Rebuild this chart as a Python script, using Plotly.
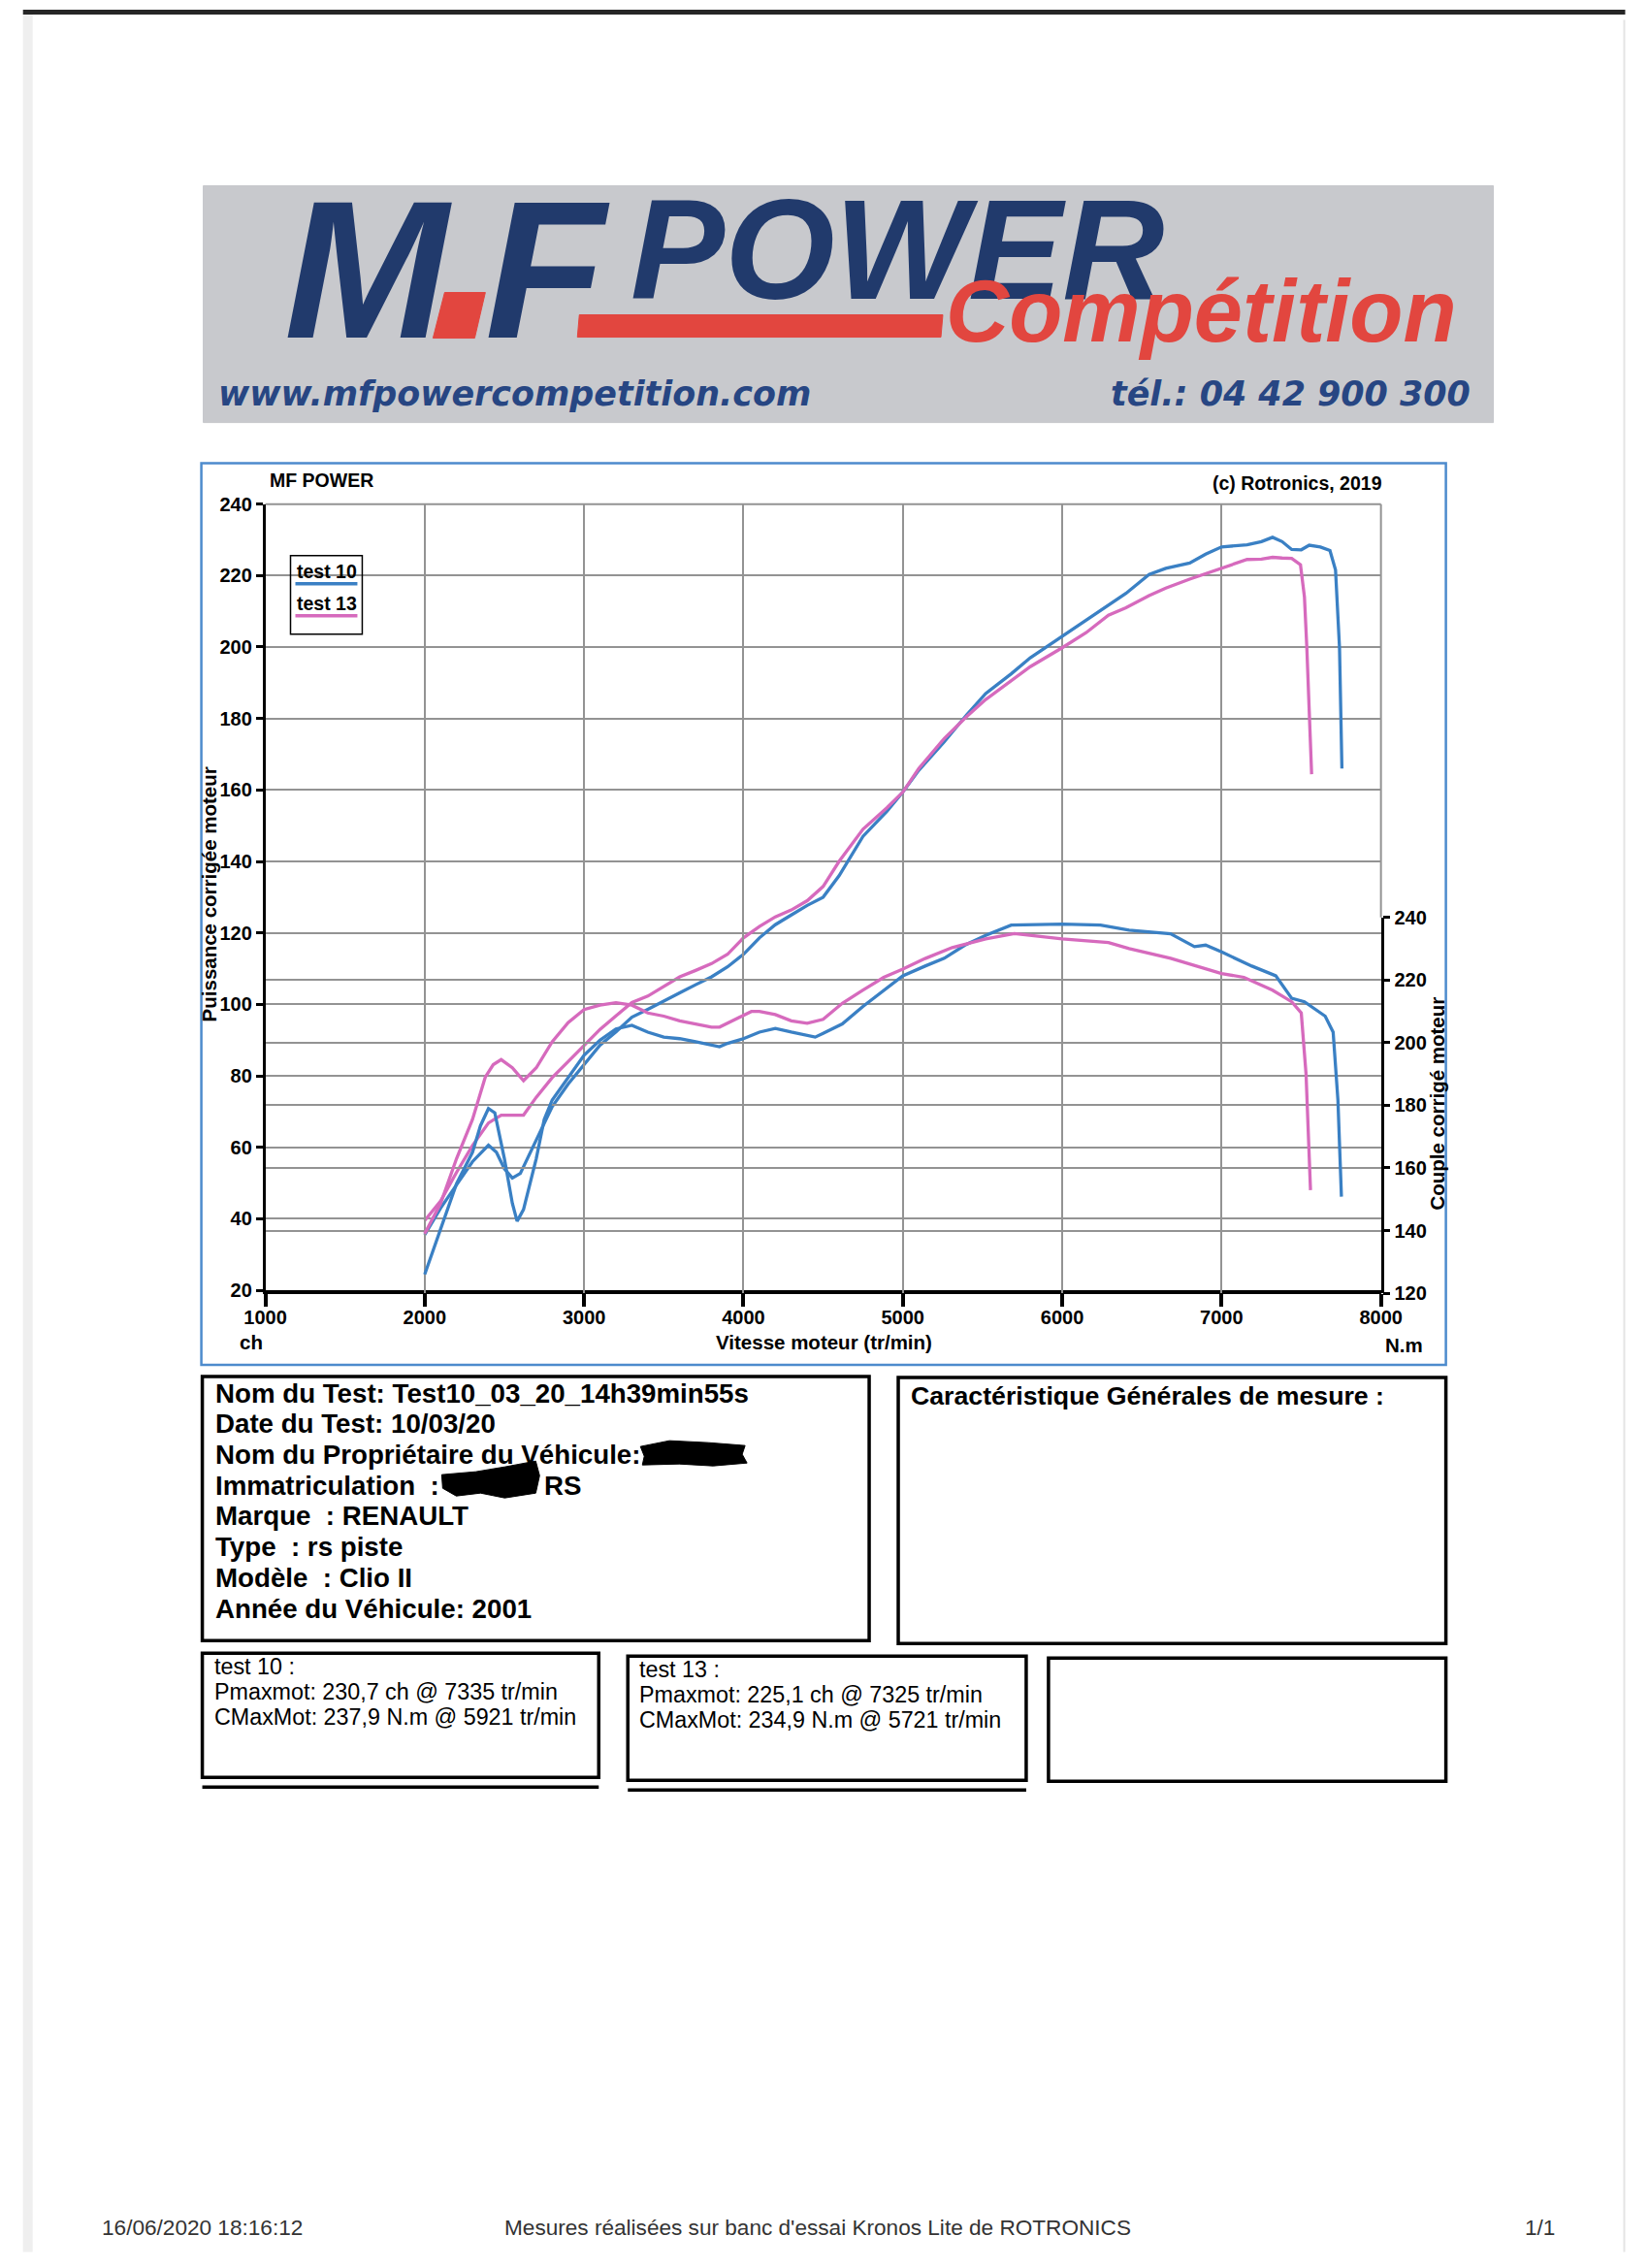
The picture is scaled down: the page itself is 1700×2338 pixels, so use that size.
import plotly.graph_objects as go

# ---------------- data (read from the dyno sheet) ----------------
rpm_power_t10 = [2000, 2100, 2200, 2300, 2400, 2450, 2500, 2550, 2600, 2700, 2800, 2900, 3000, 3100, 3200,
                 3300, 3400, 3500, 3600, 3700, 3800, 3900, 4000, 4100, 4200, 4300, 4400, 4500, 4600, 4750,
                 4900, 5000, 5100, 5260, 5400, 5520, 5680, 5800, 6000, 6150, 6290, 6400, 6545, 6650, 6800,
                 6900, 7000, 7160, 7250, 7320, 7380, 7440, 7500, 7550, 7620, 7680, 7715, 7740, 7755]
power_t10 = [35.5, 43, 49.5, 56, 60.6, 58.6, 54, 51.4, 52.7, 62.3, 71.4, 77.7, 83.2, 88.6, 92.3,
             96.4, 98.6, 101, 103.2, 105.5, 107.7, 110.5, 114, 118.6, 122.3, 125, 127.7, 130, 136, 147,
             154, 159.4, 165.5, 173.5, 181, 187, 192.5, 197, 203, 207.5, 211.6, 215, 220.3, 222, 223.5,
             226, 228, 228.6, 229.5, 230.7, 229.5, 227.3, 227.2, 228.5, 228, 227, 221.6, 199.8, 166]

rpm_power_t13 = [2000, 2100, 2200, 2300, 2400, 2480, 2550, 2620, 2700, 2800, 2900, 3000, 3100, 3200, 3300,
                 3400, 3500, 3600, 3700, 3800, 3900, 4000, 4100, 4200, 4300, 4400, 4500, 4600, 4750, 4900,
                 5000, 5100, 5260, 5400, 5520, 5680, 5800, 6000, 6150, 6290, 6400, 6545, 6650, 6800, 6900,
                 7000, 7160, 7250, 7320, 7380, 7440, 7495, 7520, 7535, 7550, 7565]
power_t13 = [39.5, 45, 53, 60.5, 66.8, 69, 69, 69, 74, 79.5, 84, 88.6, 93, 96.8, 100.5,
             102.3, 105, 107.7, 109.5, 111.4, 114, 118.6, 121.8, 124.5, 126.4, 129, 133, 140, 149, 155,
             159.4, 166, 174.4, 180.5, 185.3, 190.7, 194.5, 199.8, 204, 208.9, 211, 214.4, 216.5, 219, 220.5,
             222, 224.5, 224.6, 225.1, 224.9, 224.8, 223, 214, 199.8, 182, 164.4]

rpm_torque_t10 = [2000, 2100, 2200, 2300, 2350, 2400, 2440, 2500, 2550, 2580, 2620, 2700, 2750, 2800, 2900,
                  3000, 3100, 3200, 3300, 3400, 3500, 3600, 3700, 3800, 3850, 3900, 4000, 4100, 4200, 4300,
                  4400, 4450, 4500, 4620, 4750, 4880, 5000, 5140, 5260, 5390, 5520, 5680, 6000, 6240, 6420,
                  6680, 6830, 6900, 7000, 7190, 7340, 7440, 7520, 7650, 7700, 7730, 7745, 7752]
torque_t10 = [126, 140.5, 155, 165, 173.5, 179, 177.6, 163, 148.7, 143, 146.7, 163, 175.5, 181.7, 189,
              196, 200.8, 204.4, 205.6, 203.4, 201.8, 201.3, 200.3, 199.2, 198.7, 199.8, 201.3, 203.4, 204.6, 203.4,
              202.3, 201.8, 203, 206, 211.6, 216.8, 221.4, 224.5, 227, 231.2, 234.3, 237.6, 237.9, 237.6, 236,
              234.8, 230.7, 231.2, 229, 224.5, 221.4, 214.2, 213.1, 208.5, 203.4, 181.7, 161, 150.8]

rpm_torque_t13 = [2000, 2100, 2200, 2300, 2380, 2430, 2480, 2550, 2620, 2700, 2800, 2900, 3000, 3100, 3200,
                  3300, 3400, 3500, 3600, 3700, 3800, 3850, 3950, 4050, 4100, 4200, 4300, 4400, 4500, 4620,
                  4750, 4880, 5000, 5140, 5310, 5520, 5700, 5850, 6000, 6290, 6420, 6680, 6880, 7000, 7140,
                  7320, 7440, 7500, 7530, 7545, 7558]
torque_t13 = [139, 148.7, 163, 175.5, 189, 193, 194.6, 192, 187.9, 192, 200.3, 206.4, 210.6, 212, 212.8,
              212, 209.5, 208.5, 207, 206, 205, 205, 207.5, 210, 210, 209, 207, 206.2, 207.5, 212.6,
              216.8, 220.9, 223.5, 226.9, 230.4, 233.2, 234.9, 234, 233.2, 232, 230.1, 227, 224, 222.1, 220.9,
              216.8, 213.1, 209.5, 190, 171.4, 152.9]

series_names = ["test 10", "test 13"]
rpm_ticks = [1000, 2000, 3000, 4000, 5000, 6000, 7000, 8000]
power_ticks = [20, 40, 60, 80, 100, 120, 140, 160, 180, 200, 220, 240]
torque_ticks = [120, 140, 160, 180, 200, 220, 240]

info_lines = ["Nom du Test: Test10_03_20_14h39min55s", "Date du Test: 10/03/20",
              "Nom du Propriétaire du Véhicule:", "Immatriculation  :", "Marque  : RENAULT",
              "Type  : rs piste", "Modèle  : Clio II", "Année du Véhicule: 2001"]
test10_lines = ["test 10 :", "Pmaxmot: 230,7 ch @ 7335 tr/min", "CMaxMot: 237,9 N.m @ 5921 tr/min"]
test13_lines = ["test 13 :", "Pmaxmot: 225,1 ch @ 7325 tr/min", "CMaxMot: 234,9 N.m @ 5721 tr/min"]

# ---------------- styling / placement ----------------
# Figure size leaves room for the default 8px page margin.  Positions below are given in
# sheet pixels and mapped to figure pixels (the capture maps page px to sheet px slightly scaled).
MARGIN = 8
FW, FH = 1684, 2320
SX, TX = 0.9746, 21.5
SY, TY = 0.990, 10.7
FS = 1 / SX
FONT = "Liberation Sans"
BLUE = "#3a80c4"
PINK = "#d66abd"
GRID = "#939393"
NAVY = "#213a6c"
RED = "#e2463f"


def px(X):
    return ((X - TX) / SX - MARGIN) / FW


def py(Y):
    return 1 - ((Y - TY) / SY - MARGIN) / FH


def fs(s):
    return round(s * FS, 1)


fig = go.Figure()
fig.add_trace(go.Scatter(x=rpm_power_t10, y=power_t10, mode="lines", name=series_names[0],
                         line=dict(color=BLUE, width=3.3), xaxis="x", yaxis="y"))
fig.add_trace(go.Scatter(x=rpm_power_t13, y=power_t13, mode="lines", name=series_names[1],
                         line=dict(color=PINK, width=3.3), xaxis="x", yaxis="y"))
fig.add_trace(go.Scatter(x=rpm_torque_t10, y=torque_t10, mode="lines", name=series_names[0],
                         line=dict(color=BLUE, width=3.3), xaxis="x", yaxis="y2"))
fig.add_trace(go.Scatter(x=rpm_torque_t13, y=torque_t13, mode="lines", name=series_names[1],
                         line=dict(color=PINK, width=3.3), xaxis="x", yaxis="y2"))

shapes = []
annots = []


def rect(x0, y0, x1, y1, color="black", width=3, fill=None, layer="above"):
    shapes.append(dict(type="rect", xref="paper", yref="paper", x0=px(x0), x1=px(x1), y0=py(y1), y1=py(y0),
                       line=dict(color=color, width=width), fillcolor=fill, layer=layer))


def line(x0, y0, x1, y1, color="black", width=3, layer="above"):
    shapes.append(dict(type="line", xref="paper", yref="paper", x0=px(x0), x1=px(x1), y0=py(y0), y1=py(y1),
                       line=dict(color=color, width=width), layer=layer))


def path(points, color, layer="above"):
    d = "M " + " L ".join(f"{px(x)},{py(y)}" for x, y in points) + " Z"
    shapes.append(dict(type="path", xref="paper", yref="paper", path=d, fillcolor=color,
                       line=dict(color=color, width=1), layer=layer))


def text(t, x, y, size, bold=False, color="black", xanchor="left", yanchor="middle", italic=False,
         family=FONT, angle=0):
    annots.append(dict(text=t, xref="paper", yref="paper", x=px(x), y=py(y), xanchor=xanchor, yanchor=yanchor,
                       showarrow=False, textangle=angle,
                       font=dict(family=family, size=fs(size), color=color,
                                 weight="bold" if bold else "normal",
                                 style="italic" if italic else "normal")))


# page edge (scan borders)
rect(23, 14, 33, 2320, color="#efefef", width=0, fill="#efefef", layer="below")
line(23, 12, 1676, 12, color="#262626", width=5, layer="below")
line(1675, 20, 1675, 2320, color="#e4e4e4", width=2, layer="below")

# ---- logo banner ----
rect(209, 191, 1540, 435, color="#c6c7cb", width=1, fill="#c8c9cd", layer="below")
text("M", 290, 277, 198, bold=True, color=NAVY, italic=True)
path([(446, 348), (489, 348), (500, 301), (458, 301)], RED)
text("F", 498, 277, 198, bold=True, color=NAVY, italic=True)
text("POWER", 648, 257, 142, bold=True, color=NAVY, italic=True)
path([(597, 324), (972, 324), (970, 347), (595, 347)], RED)
text("Compétition", 973, 320, 88, bold=True, color=RED, italic=True)
text("www.mfpowercompetition.com", 222, 405, 34, bold=True, color="#274683", italic=True, family="DejaVu Sans")
text("tél.: 04 42 900 300", 1518, 405, 34, bold=True, color="#274683", italic=True, family="DejaVu Sans",
     xanchor="right")

# ---- chart frame ----
rect(207, 477, 1491, 1406, color="#4d8bcd", width=2.5, layer="below")
text("MF POWER", 275, 494, 19, bold=True)
text("(c) Rotronics, 2019", 1427, 497, 19, bold=True, xanchor="right")
# plot border (top / right)
line(273, 519, 1424, 519, color=GRID, width=2, layer="below")
line(1424, 519, 1424, 945, color=GRID, width=2, layer="below")

text("Puissance corrigée moteur", 215, 921, 20, bold=True, angle=-90, xanchor="center")
text("Couple corrigé moteur", 1482, 1137, 20, bold=True, angle=-90, xanchor="center")
text("Vitesse moteur (tr/min)", 849, 1382, 20, bold=True, xanchor="center")
text("ch", 258, 1382, 20, bold=True, xanchor="center")
text("N.m", 1448, 1385, 20, bold=True, xanchor="center")

# legend box
rect(299, 572, 373, 653, color="black", width=1.5)
text(series_names[0], 304, 588, 19, bold=True)
line(304, 601, 368, 601, color=BLUE, width=3.5)
text(series_names[1], 304, 621, 19, bold=True)
line(304, 634, 368, 634, color=PINK, width=3.5)

# ---- info boxes ----
rect(208, 1418, 896, 1690, width=3.5)
rect(926, 1419, 1491, 1693, width=3.5)
rect(208, 1703, 617, 1831, width=3.5)
line(208, 1841, 617, 1841, width=3.5)
rect(647, 1706, 1058, 1834, width=3.5)
line(647, 1844, 1058, 1844, width=3.5)
rect(1081, 1708, 1491, 1835, width=3.5)

for i, t in enumerate(info_lines):
    text(t, 219, 1435 + i * 31.7, 27, bold=True)
# redaction scribbles
path([(660, 1490), (690, 1484), (730, 1486), (768, 1489), (765, 1498), (770, 1507), (735, 1510),
      (700, 1508), (662, 1509), (664, 1500)], "black")
path([(455, 1519), (490, 1516), (520, 1511), (552, 1505), (556, 1520), (552, 1538), (520, 1543),
      (495, 1538), (470, 1541), (456, 1533)], "black")
text("RS", 559, 1530, 27, bold=True)

text("Caractéristique Générales de mesure :", 937, 1438, 26, bold=True)

for i, t in enumerate(test10_lines):
    text(t, 218, 1717 + i * 26, 22.7)
for i, t in enumerate(test13_lines):
    text(t, 657, 1720 + i * 26, 22.7)

# ---- footer ----
text("16/06/2020 18:16:12", 102, 2295, 22, color="#333333")
text("Mesures réalisées sur banc d'essai Kronos Lite de ROTRONICS", 518, 2295, 22, color="#333333")
text("1/1", 1570, 2295, 22, color="#333333")

tickfont = dict(family=FONT, size=fs(19.5), color="black", weight="bold")
fig.update_layout(
    width=FW, height=FH, margin=dict(l=0, r=0, t=0, b=0),
    paper_bgcolor="white", plot_bgcolor="rgba(0,0,0,0)",
    showlegend=False, font=dict(family=FONT),
    xaxis=dict(domain=[px(273), px(1424)], range=[1000, 8000], tickvals=rpm_ticks,
               ticktext=[str(v) for v in rpm_ticks], showgrid=True, gridcolor=GRID, gridwidth=1.6,
               showline=True, linecolor="black", linewidth=4, ticks="outside", ticklen=13, tickwidth=3.5,
               tickcolor="black", tickfont=tickfont, zeroline=False, anchor="y", ticklabelstandoff=-6),
    yaxis=dict(domain=[py(1329), py(519)], range=[20, 240], tickvals=power_ticks, showgrid=True,
               gridcolor=GRID, gridwidth=1.6, showline=True, linecolor="black", linewidth=2.5,
               ticks="outside", ticklen=7, tickwidth=2.5, tickcolor="black", tickfont=tickfont,
               zeroline=False, anchor="x"),
    yaxis2=dict(domain=[py(1332), py(945)], range=[120, 240], tickvals=torque_ticks, showgrid=True,
                gridcolor=GRID, gridwidth=1.6, showline=True, linecolor="black", linewidth=2.5,
                ticks="outside", ticklen=7, tickwidth=2.5, tickcolor="black", tickfont=tickfont,
                zeroline=False, anchor="x", side="right"),
    shapes=shapes, annotations=annots,
)

fig.write_html("out.html")
